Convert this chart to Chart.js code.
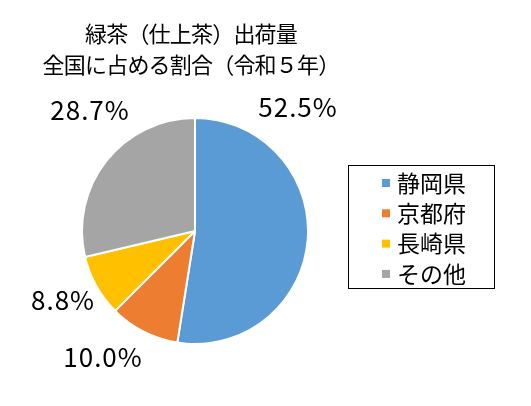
<!DOCTYPE html>
<html>
<head>
<meta charset="utf-8">
<script src="https://cdn.jsdelivr.net/npm/chart.js@4.4.1/dist/chart.umd.min.js"></script>
<style>
  html, body { margin: 0; padding: 0; background: #fff; }
  #wrap { width: 531px; height: 406px; position: relative; }
</style>
</head>
<body>
<div id="wrap"><canvas id="chartTea"></canvas></div>
<script>
const TITLE_LINES = ["緑茶（仕上茶）出荷量", "全国に占める割合（令和５年）"];
const PREFS = ["静岡県", "京都府", "長崎県", "その他"];
const SHARES = [52.5, 10.0, 8.8, 28.7];
const COLORS = ["#5b9bd5", "#ed7d31", "#ffc000", "#a5a5a5"];

const FONT = '"Noto Sans CJK JP", "Noto Sans", sans-serif';

// where Excel put the outside labels (centre of each text)
const labelPos = [[298, 107], [103, 357], [63, 300], [90, 110]];

const teaDecor = {
    id: "teaDecor",
    afterDraw(chart) {
        const ctx = chart.ctx;
        ctx.save();
        ctx.fillStyle = "#000";
        ctx.textAlign = "center";
        ctx.textBaseline = "middle";

        // title
        ctx.font = "22px " + FONT;
        ctx.letterSpacing = "-0.8px";
        TITLE_LINES.forEach((t, i) => ctx.fillText(t, 191, 34 + i * 31));

        // percent labels
        ctx.font = "26px " + FONT;
        ctx.letterSpacing = "1px";
        const ds = chart.data.datasets[0];
        ds.data.forEach((v, i) => {
            ctx.fillText(v.toFixed(1) + "%", labelPos[i][0], labelPos[i][1]);
        });
        ctx.letterSpacing = "0px";

        // legend box
        ctx.strokeStyle = "#000";
        ctx.lineWidth = 1;
        ctx.strokeRect(348.5, 165.5, 146, 123);
        ctx.textAlign = "left";
        ctx.font = "23px " + FONT;
        chart.data.labels.forEach((lab, i) => {
            const y = 183 + i * 30.3;
            ctx.fillStyle = ds.backgroundColor[i];
            ctx.fillRect(382, y - 4, 8, 8);
            ctx.fillStyle = "#000";
            ctx.fillText(lab, 397, y);
        });
        ctx.restore();
    }
};

new Chart(document.getElementById("chartTea").getContext("2d"), {
    type: "pie",
    data: {
        labels: PREFS,
        datasets: [{
            data: SHARES,
            backgroundColor: COLORS,
            borderColor: "#fff",
            borderWidth: 2,
        }],
    },
    options: {
        responsive: true,
        maintainAspectRatio: false,
        animation: false,
        layout: { padding: { left: 81, right: 222, top: 117, bottom: 61 } },
        plugins: {
            legend: { display: false },
            title: { display: false },
            tooltip: { enabled: false },
        },
    },
    plugins: [teaDecor],
});
</script>
</body>
</html>
